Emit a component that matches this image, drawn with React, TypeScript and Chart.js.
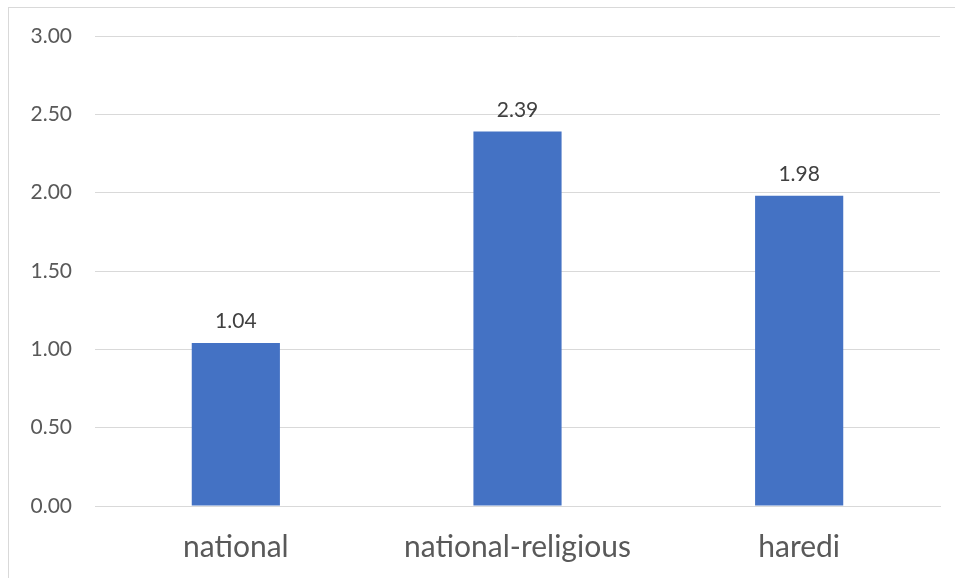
import React, { useEffect, useRef } from "react";
import { Chart, registerables } from "chart.js";

Chart.register(...registerables);

const categories = ["national", "national-religious", "haredi"];
const values = [1.04, 2.39, 1.98];
const yTicks = [0, 0.5, 1, 1.5, 2, 2.5, 3];

const FONT = "Lato, 'Noto Sans', sans-serif";

const dataLabels = {
  id: "dataLabels",
  afterDatasetsDraw(chart: any) {
    const ctx = chart.ctx;
    const meta = chart.getDatasetMeta(0);
    ctx.save();
    ctx.font = `21px ${FONT}`;
    ctx.fillStyle = "#404040";
    ctx.textAlign = "center";
    ctx.textBaseline = "bottom";
    meta.data.forEach((bar: any, i: number) => {
      ctx.fillText(values[i].toFixed(2), bar.x, bar.y - 11);
    });
    ctx.restore();
  },
};

export default function App() {
  const ref = useRef<HTMLCanvasElement>(null);
  useEffect(() => {
    if (!ref.current) return;
    const chart = new Chart(ref.current, {
      type: "bar",
      data: {
        labels: categories,
        datasets: [
          {
            data: values,
            backgroundColor: "#4472C4",
            barPercentage: 1,
            categoryPercentage: 0.313,
          },
        ],
      },
      options: {
        animation: false,
        responsive: false,
        maintainAspectRatio: false,
        layout: { padding: { top: 28, right: 15, bottom: 0, left: 0 } },
        plugins: { legend: { display: false }, tooltip: { enabled: false } },
        scales: {
          x: {
            grid: { display: false, drawTicks: false },
            border: { display: true, color: "#d9d9d9" },
            ticks: {
              color: "#595959",
              font: { family: FONT, size: 30 },
              padding: 23,
            },
            afterFit(scale: any) {
              scale.height = 72;
              scale.paddingLeft = 0;
              scale.paddingRight = 0;
            },
          },
          y: {
            min: 0,
            max: 3,
            afterBuildTicks(scale: any) {
              scale.ticks = yTicks.map((v) => ({ value: v }));
            },
            grid: { color: "#d9d9d9", drawTicks: false },
            border: { display: false },
            ticks: {
              color: "#595959",
              font: { family: FONT, size: 21 },
              padding: 23,
              callback: (v: any) => Number(v).toFixed(2),
            },
            afterFit(scale: any) {
              scale.width = 86;
              scale.paddingTop = 0;
              scale.paddingBottom = 0;
            },
          },
        },
      },
      plugins: [dataLabels],
    });
    return () => chart.destroy();
  }, []);
  return (
    <div style={{ paddingTop: 0 }}>
      <div
        style={{
          position: "absolute",
          left: 8,
          top: 7,
          width: 946,
          height: 570,
          borderTop: "1px solid #d9d9d9",
          borderLeft: "1px solid #d9d9d9",
          background: "#fff",
        }}
      >
        <canvas ref={ref} width={946} height={570} style={{ display: "block" }} />
      </div>
    </div>
  );
}
